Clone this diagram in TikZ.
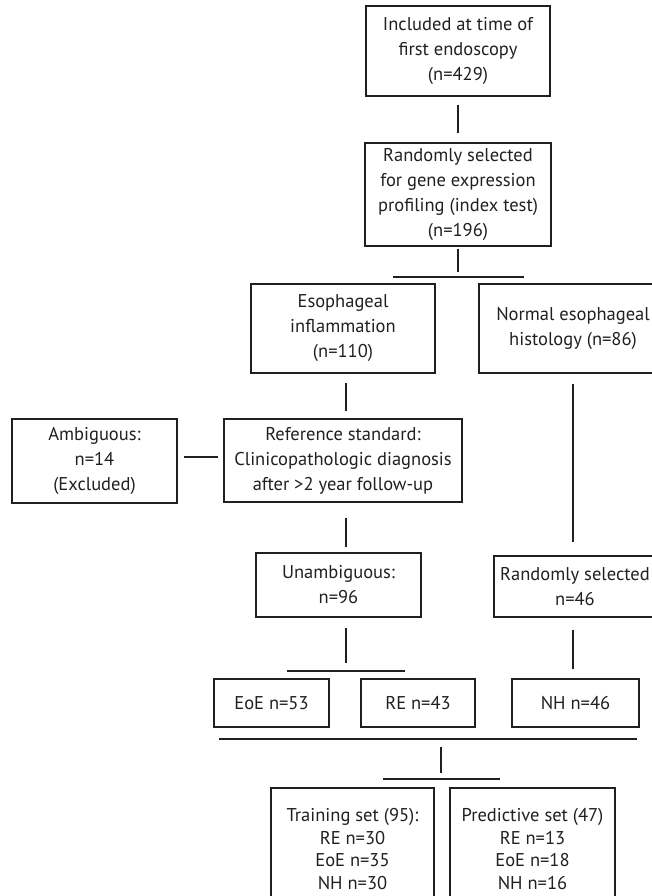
\documentclass[tikz,border=0pt]{standalone}
\usepackage{fontspec}
\setmainfont{PT Sans}
\usepackage{tikz}
\definecolor{ink}{RGB}{35,31,32}
\tikzstyle{box}  = [rectangle,draw=ink,line width=1.1pt,inner sep=0pt,align=center,text=ink]
\tikzstyle{link} = [draw=ink,line width=1.1pt]

\begin{document}
\begin{tikzpicture}[x=1pt, y=-1pt,
                    font=\fontsize{18.5}{25}\selectfont
                    ]
\useasboundingbox (0,0) rectangle (652,896);

    \node(incl)[box, minimum width=184pt, minimum height=90pt] at (458,51) {Included at time of\\first endoscopy\\(n=429)};
    \node(rand)[box, minimum width=186pt, minimum height=103pt] at (458,194.5) {Randomly selected\\for gene expression\\profiling (index test)\\(n=196)};
    \node(infl)[box, minimum width=184pt, minimum height=89pt] at (343,328.5) {Esophageal\\inflammation\\(n=110)};
    \node(norm)[box, minimum width=188pt, minimum height=89pt] at (573,328.5) {Normal esophageal\\histology (n=86)};
    \node(ambig)[box, minimum width=165pt, minimum height=84pt] at (94.5,461) {Ambiguous:\\n=14\\(Excluded)};
    \node(refstd)[box, minimum width=238pt, minimum height=83pt] at (343,460.5) {Reference standard:\\Clinicopathologic diagnosis\\after >2 year follow-up};
    \node(unamb)[box, minimum width=165pt, minimum height=64pt] at (338.5,585) {Unambiguous:\\n=96};
    \node(randsel)[box, minimum width=162pt, minimum height=61pt] at (575,586.5) {Randomly selected\\n=46};
    \node(eoe)[box, minimum width=115pt, minimum height=48pt] at (271.5,703) {EoE n=53};
    \node(re)[box, minimum width=114pt, minimum height=48pt] at (418,703) {RE n=43};
    \node(nh)[box, minimum width=127pt, minimum height=48pt] at (575.5,703) {NH n=46};
    \node(train)[box, minimum width=163pt, minimum height=122pt, font=\fontsize{18.5}{22.7}\selectfont] at (352.5,849) {Training set (95):\\RE n=30\\EoE n=35\\NH n=30};
    \node(pred)[box, minimum width=165pt, minimum height=122pt, font=\fontsize{18.5}{22.7}\selectfont] at (532.5,849) {Predictive set (47)\\RE n=13\\EoE n=18\\NH n=16};

    \coordinate(b1l) at (393,277);  \coordinate(b1r) at (524,277);
    \coordinate(b2l) at (287,671);  \coordinate(b2r) at (405,671);
    \coordinate(b3l) at (219,739);  \coordinate(b3r) at (637,739);
    \coordinate(b4l) at (383,779);  \coordinate(b4r) at (500,779);
    \coordinate(nhend) at (573,669);
    \coordinate(stem) at (441,747);

    \draw[link, shorten <=8pt, shorten >=9pt](incl)--(rand);
    \draw[link, shorten <=2pt, shorten >=5pt](rand.south)--(rand.south |- b1l);
    \draw[link](b1l)--(b1r);
    \draw[link, shorten <=9pt, shorten >=7pt]([xshift=3pt]infl.south)--([xshift=3pt]refstd.north);
    \draw[link, shorten <=10pt, shorten >=13pt](norm.south)--(norm.south |- randsel.north);
    \draw[link, shorten <=6pt, shorten >=5pt]([yshift=4pt]ambig.east)--([yshift=4pt]ambig.east -| refstd.west);
    \draw[link, shorten <=15pt, shorten >=5pt]([xshift=3pt]refstd.south)--([xshift=3pt]refstd.south |- unamb.north);
    \draw[link, shorten <=10pt, shorten >=8pt]([xshift=7.5pt]unamb.south)--([xshift=7.5pt]unamb.south |- b2l);
    \draw[link](b2l)--(b2r);
    \draw[link, shorten <=12pt](randsel.south -| nhend)--(nhend);
    \draw[link](b3l)--(b3r);
    \draw[link, shorten >=6pt](stem)--(stem |- b4l);
    \draw[link](b4l)--(b4r);

\end{tikzpicture}
\end{document}
